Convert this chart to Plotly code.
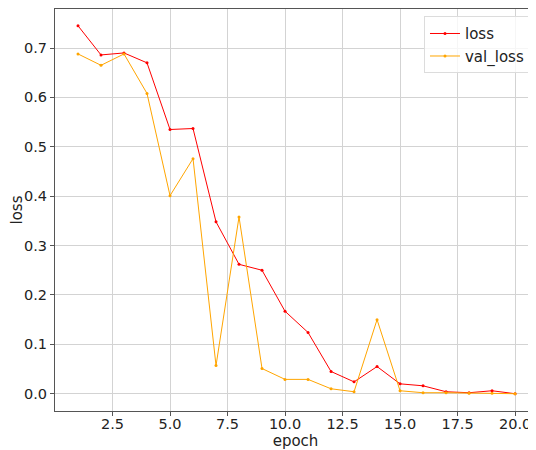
import plotly.graph_objects as go

epochs = list(range(1, 21))
loss = [0.745, 0.686, 0.690, 0.670, 0.535, 0.537, 0.348, 0.262, 0.250, 0.167,
        0.124, 0.045, 0.024, 0.055, 0.020, 0.016, 0.004, 0.002, 0.006, 0.000]
val_loss = [0.688, 0.665, 0.688, 0.608, 0.401, 0.476, 0.057, 0.358, 0.051, 0.029,
            0.029, 0.010, 0.004, 0.150, 0.006, 0.002, 0.002, 0.001, 0.001, 0.000]
x_ticks = [2.5, 5, 7.5, 10, 12.5, 15, 17.5, 20]
x_ticktext = ["2.5", "5.0", "7.5", "10.0", "12.5", "15.0", "17.5", "20.0"]
y_ticks = [0, 0.1, 0.2, 0.3, 0.4, 0.5, 0.6, 0.7]
y_ticktext = ["0.0", "0.1", "0.2", "0.3", "0.4", "0.5", "0.6", "0.7"]

fig = go.Figure()
fig.add_trace(go.Scatter(x=epochs, y=loss, mode="lines+markers", name="loss",
                         line=dict(color="#ff0000", width=1),
                         marker=dict(size=3, color="#ff0000")))
fig.add_trace(go.Scatter(x=epochs, y=val_loss, mode="lines+markers", name="val_loss",
                         line=dict(color="#ffa500", width=1),
                         marker=dict(size=3, color="#ffa500")))

font = dict(family="DejaVu Sans", size=14.5, color="#222")
fig.update_layout(
    width=528, height=442,
    margin=dict(l=47, r=0, t=1, b=39, autoexpand=False),
    paper_bgcolor="white", plot_bgcolor="white",
    font=font,
    showlegend=True,
    legend=dict(x=0.9875, y=0.982, xanchor="right", yanchor="top",
                bgcolor="rgba(255,255,255,0.8)", bordercolor="#dcdcdc", borderwidth=1,
                tracegroupgap=0,
                font=dict(family="DejaVu Sans", size=15, color="#222")),
    xaxis=dict(range=[0.0, 20.91], tickvals=x_ticks, ticktext=x_ticktext,
               showgrid=True, gridcolor="#d3d3d3", gridwidth=1,
               showline=True, linecolor="#555", linewidth=1, mirror=True,
               ticks="outside", ticklen=4, tickcolor="#555", zeroline=False,
               ticklabelstandoff=-4,
               automargin=False,
               title=dict(text="epoch", standoff=1, font=dict(size=15))),
    yaxis=dict(range=[-0.035, 0.779], tickvals=y_ticks, ticktext=y_ticktext,
               showgrid=True, gridcolor="#d3d3d3", gridwidth=1,
               showline=True, linecolor="#555", linewidth=1,
               ticks="outside", ticklen=4, tickcolor="#555", zeroline=False,
               automargin=False,
               title=dict(text="loss", standoff=6, font=dict(size=15))),
)

fig.write_html("out.html")
